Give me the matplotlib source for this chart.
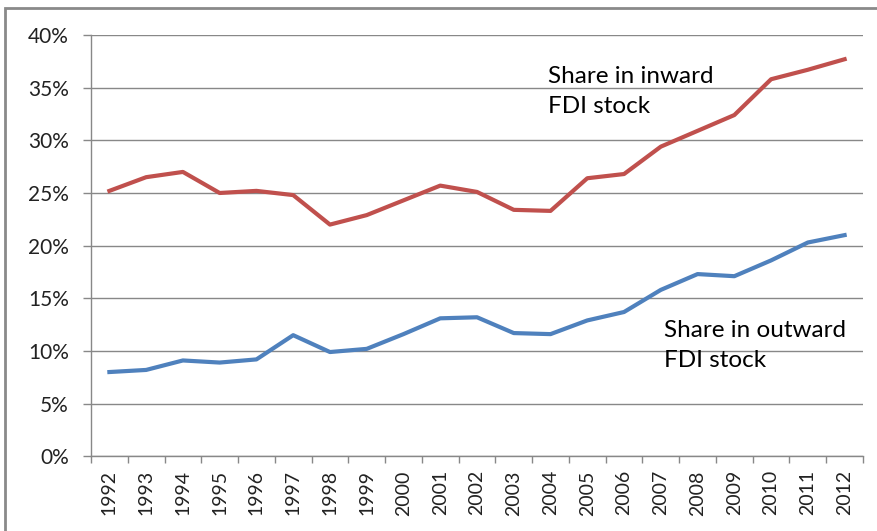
import numpy as np
import matplotlib
matplotlib.use("Agg")
import matplotlib.pyplot as plt
from matplotlib.patches import Rectangle
from matplotlib.ticker import FuncFormatter, MultipleLocator, FixedLocator

# data (percent)
years = [str(y) for y in range(1992, 2013)]
inward_share = [25.2, 26.5, 27.0, 25.0, 25.2, 24.8, 22.0, 22.9, 24.3, 25.7, 25.1,
                23.4, 23.3, 26.4, 26.8, 29.4, 30.9, 32.4, 35.8, 36.7, 37.7]
outward_share = [8.0, 8.2, 9.1, 8.9, 9.2, 11.5, 9.9, 10.2, 11.6, 13.1, 13.2,
                 11.7, 11.6, 12.9, 13.7, 15.8, 17.3, 17.1, 18.6, 20.3, 21.0]

red = '#C0504D'
blue = '#4F81BD'
grey = '#888888'

fig = plt.figure(figsize=(8.77, 5.31), dpi=100)
# outer chart frame, runs off the right and bottom edges
fig.patches.append(Rectangle((5 / 877, -0.05), 1.2, 1 - 8 / 531 + 0.05,
                             transform=fig.transFigure, fill=False,
                             edgecolor='#8a8a8a', linewidth=2))

ax = fig.add_axes([91 / 877, 1 - 456.3 / 531, (863 - 91) / 877, (456.3 - 35) / 531])
x = np.arange(len(years))
ax.plot(x, inward_share, color=red, linewidth=3, solid_joinstyle='round', zorder=3)
ax.plot(x, outward_share, color=blue, linewidth=3, solid_joinstyle='round', zorder=3)

ax.set_xlim(-0.5, len(years) - 0.5)
ax.set_ylim(0, 40)
ax.yaxis.set_major_locator(MultipleLocator(5))
ax.yaxis.set_major_formatter(FuncFormatter(lambda v, p: f'{v:.0f}%'))
ax.yaxis.grid(True, color=grey, linewidth=1)
ax.set_axisbelow(True)

ax.set_xticks(x)
ax.set_xticklabels(years, rotation=90)
ax.xaxis.set_minor_locator(FixedLocator(np.arange(-0.5, len(years), 1)))
ax.tick_params(axis='x', which='major', length=0, pad=10)
ax.tick_params(axis='x', which='minor', length=5, color=grey, width=1)
ax.tick_params(axis='y', length=6, color=grey, width=1, pad=10)
for lab in ax.get_xticklabels():
    lab.set_fontfamily('Lato')
    lab.set_fontsize(14)
    lab.set_color('#222222')
for lab in ax.get_yticklabels():
    lab.set_fontfamily('Lato')
    lab.set_fontsize(15)
    lab.set_color('#222222')

for s in ['top', 'right']:
    ax.spines[s].set_visible(False)
for s in ['left', 'bottom']:
    ax.spines[s].set_color(grey)
    ax.spines[s].set_linewidth(1)

ax.text(548 / 877, 1 - 66 / 531, 'Share in inward\nFDI stock', transform=fig.transFigure,
        fontfamily='Lato', fontsize=17.5, va='top', ha='left', linespacing=1.55)
ax.text(664 / 877, 1 - 320 / 531, 'Share in outward\nFDI stock', transform=fig.transFigure,
        fontfamily='Lato', fontsize=17.5, va='top', ha='left', linespacing=1.55)

fig.savefig('out.png', dpi=100)
